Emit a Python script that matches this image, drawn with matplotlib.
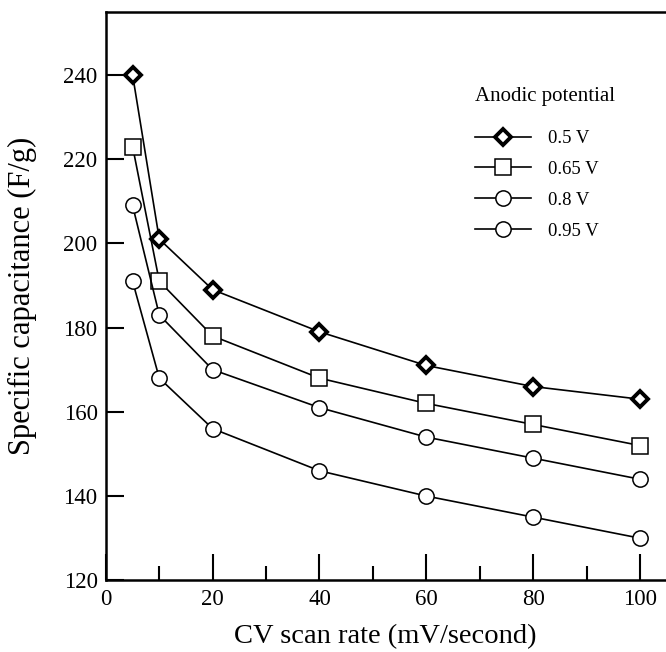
import numpy as np
import matplotlib.pyplot as plt
from matplotlib.ticker import MultipleLocator

## Data
scan_rate = [5, 10, 20, 40, 60, 80, 100]
cap_050 = [240, 201, 189, 179, 171, 166, 163]
cap_065 = [223, 191, 178, 168, 162, 157, 152]
cap_080 = [209, 183, 170, 161, 154, 149, 144]
cap_095 = [191, 168, 156, 146, 140, 135, 130]
labels = ['0.5 V', '0.65 V', '0.8 V', '0.95 V']

plt.rcParams['font.family'] = ['Liberation Serif', 'DejaVu Serif']

fig = plt.figure(figsize=(6.66, 6.52), dpi=100)
# right edge of the box is cut off in the original
ax = fig.add_axes([0.159, 0.110, 0.882, 0.872])

lw = 1.2
ax.plot(scan_rate, cap_050, color='k', lw=lw, marker='D', ms=8,
        mfc='white', mec='k', mew=2.8, label=labels[0])
ax.plot(scan_rate, cap_065, color='k', lw=lw, marker='s', ms=11,
        mfc='white', mec='k', mew=1.1, label=labels[1])
ax.plot(scan_rate, cap_080, color='k', lw=lw, marker='o', ms=11,
        mfc='white', mec='k', mew=1.1, label=labels[2])
ax.plot(scan_rate, cap_095, color='k', lw=lw, marker='o', ms=11,
        mfc='white', mec='k', mew=1.1, label=labels[3])

ax.set_xlim(0, 110)
ax.set_ylim(120, 255)
ax.xaxis.set_major_locator(MultipleLocator(20))
ax.xaxis.set_minor_locator(MultipleLocator(10))
ax.yaxis.set_major_locator(MultipleLocator(20))

ax.tick_params(axis='x', which='major', direction='in', length=19, width=1.5,
               labelsize=16.5, pad=6, top=False)
ax.tick_params(axis='x', which='minor', direction='in', length=10, width=1.5,
               top=False)
ax.tick_params(axis='y', which='major', direction='in', length=13, width=1.5,
               labelsize=16.5, pad=6, right=False)
for sp in ax.spines.values():
    sp.set_linewidth(1.8)

ax.set_xlabel('CV scan rate (mV/second)', fontsize=20.5)
ax.xaxis.set_label_coords(0.475, -0.077)
ax.set_ylabel('Specific capacitance (F/g)', fontsize=22, labelpad=19)

leg = ax.legend(title='Anodic potential', frameon=False, fontsize=13.5,
                title_fontsize=15, loc='upper left',
                bbox_to_anchor=(0.615, 0.88), handlelength=3.0,
                labelspacing=0.73, handletextpad=0.9, borderaxespad=0)
leg._legend_box.align = 'left'
leg._legend_box.sep = 17

fig.savefig('out.png', dpi=100)
